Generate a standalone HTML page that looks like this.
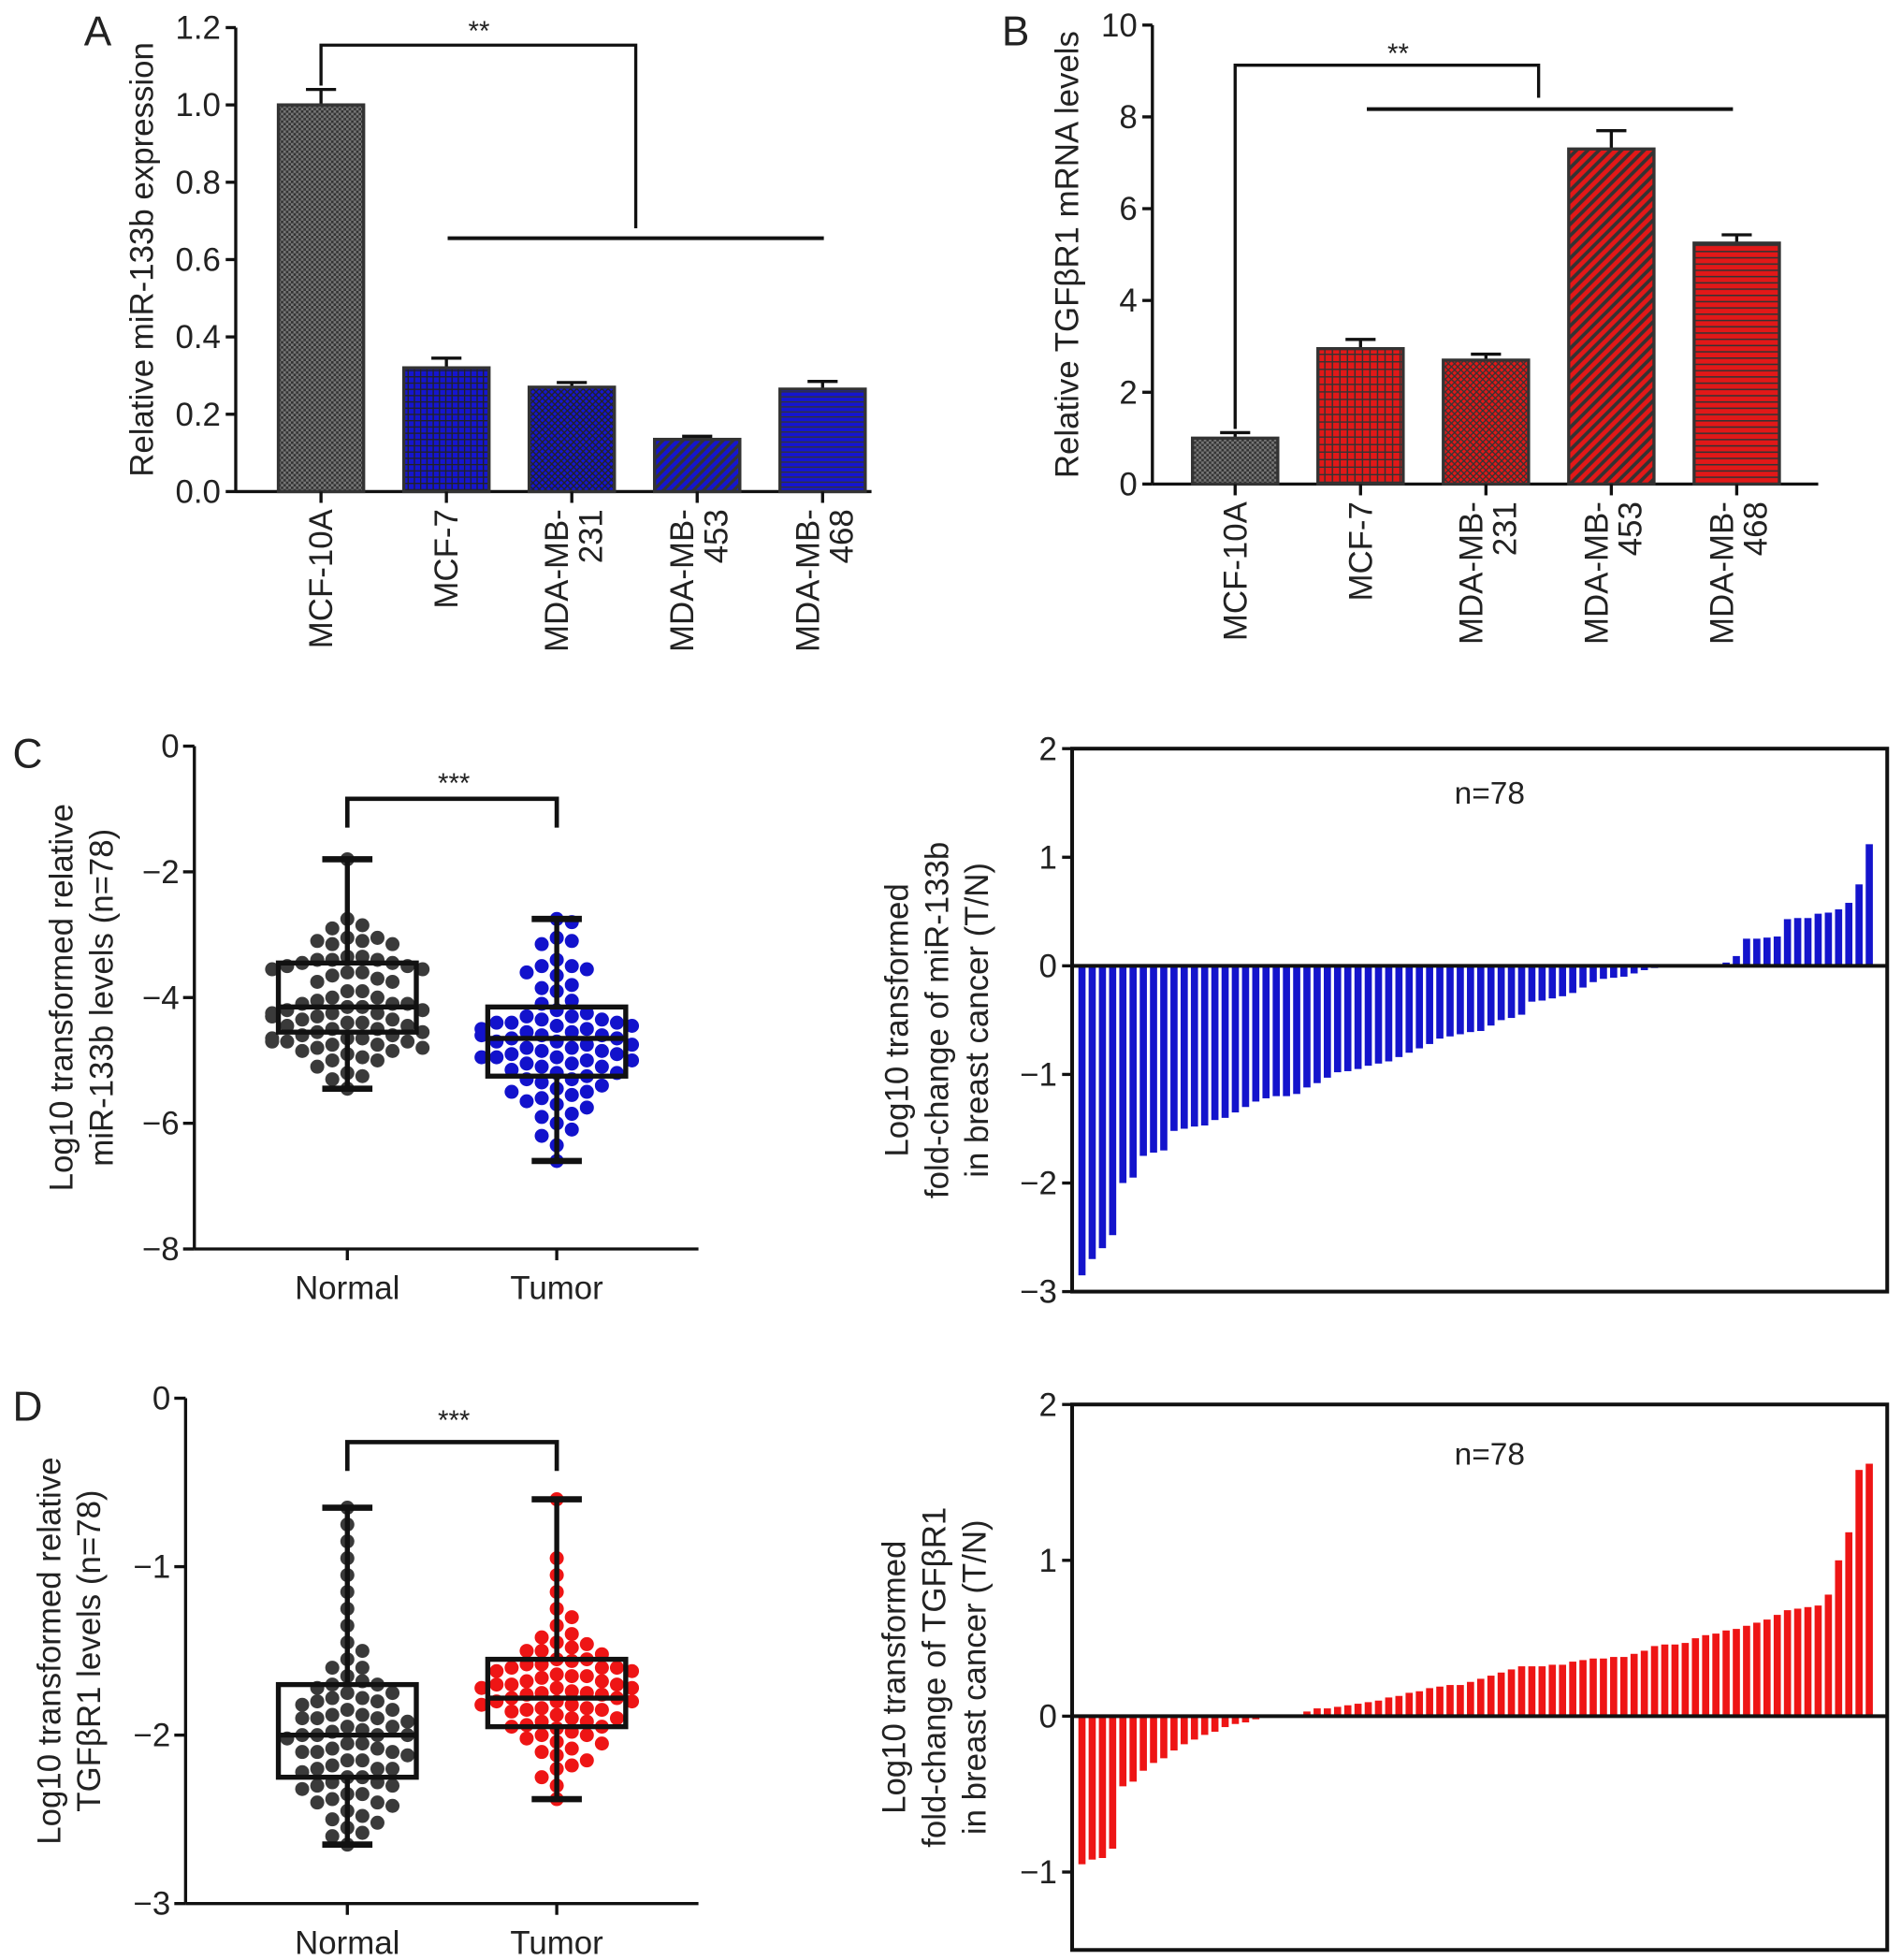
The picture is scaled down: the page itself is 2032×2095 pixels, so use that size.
<!DOCTYPE html>
<html><head><meta charset="utf-8">
<style>
html,body{margin:0;padding:0;background:#fff;}
svg{display:block;font-family:"Liberation Sans",Arial,sans-serif;}
</style></head>
<body>
<svg id="fig" width="2032" height="2095" viewBox="0 0 1516 1563" xmlns="http://www.w3.org/2000/svg">
<defs>
  <pattern id="pGray" width="4" height="4" patternUnits="userSpaceOnUse"><rect width="4" height="4" fill="#777"/><rect width="2" height="2" fill="#333"/><rect x="2" y="2" width="2" height="2" fill="#333"/></pattern>
  <pattern id="pBlueGrid" width="5" height="5" patternUnits="userSpaceOnUse"><rect width="5" height="5" fill="#1515d0"/><path d="M0 0.5H5M0.5 0V5" stroke="#222" stroke-width="1"/></pattern>
  <pattern id="pBlueCheck" width="5" height="5" patternUnits="userSpaceOnUse"><rect width="5" height="5" fill="#1515d0"/><path d="M0 0L5 5M5 0L0 5" stroke="#222" stroke-width="1"/></pattern>
  <pattern id="pBlueDiag" width="8" height="8" patternUnits="userSpaceOnUse"><rect width="8" height="8" fill="#1515d0"/><path d="M-2 10L10 -2M-2 2L2 -2M6 10L10 6" stroke="#333" stroke-width="2.5"/></pattern>
  <pattern id="pBlueHoriz" width="4" height="4" patternUnits="userSpaceOnUse"><rect width="4" height="4" fill="#1515d0"/><path d="M0 0.5H4" stroke="#333" stroke-width="1"/></pattern>
  <pattern id="pRedGrid" width="6" height="6" patternUnits="userSpaceOnUse"><rect width="6" height="6" fill="#e21818"/><path d="M0 0.5H6M0.5 0V6" stroke="#333" stroke-width="1.2"/></pattern>
  <pattern id="pRedCheck" width="5" height="5" patternUnits="userSpaceOnUse"><rect width="5" height="5" fill="#e21818"/><path d="M0 0L5 5M5 0L0 5" stroke="#333" stroke-width="1"/></pattern>
  <pattern id="pRedDiag" width="9" height="9" patternUnits="userSpaceOnUse"><rect width="9" height="9" fill="#e21818"/><path d="M-2 11L11 -2M-2 2L2 -2M7 11L11 7" stroke="#333" stroke-width="2.8"/></pattern>
  <pattern id="pRedHoriz" width="5" height="5" patternUnits="userSpaceOnUse"><rect width="5" height="5" fill="#e21818"/><path d="M0 0.5H5" stroke="#333" stroke-width="1.3"/></pattern>
</defs>
</svg>
<script>
// ---------- DATA ----------
const cellLines = ["MCF-10A","MCF-7","MDA-MB-231","MDA-MB-453","MDA-MB-468"];
const miRMeans = [1.0, 0.32, 0.27, 0.135, 0.265];
const miRErr = [0.04, 0.025, 0.012, 0.008, 0.02];
const miRTicks = [0,0.2,0.4,0.6,0.8,1.0,1.2];
const tgfMeans = [1.0, 2.95, 2.7, 7.3, 5.25];
const tgfErr = [0.12, 0.2, 0.13, 0.4, 0.18];
const tgfTicks = [0,2,4,6,8,10];
const groups = ["Normal","Tumor"];
const cNormal = [-1.8,-2.75,-2.85,-2.9,-3.05,-3.05,-3.1,-3.1,-3.15,-3.15,-3.35,-3.35,-3.4,-3.4,-3.4,-3.45,-3.45,-3.5,-3.5,-3.55,-3.55,-3.6,-3.6,-3.65,-3.7,-3.75,-3.75,-3.9,-3.9,-4.0,-4.0,-4.05,-4.1,-4.1,-4.1,-4.15,-4.15,-4.2,-4.2,-4.25,-4.25,-4.25,-4.3,-4.3,-4.3,-4.35,-4.35,-4.4,-4.4,-4.45,-4.45,-4.5,-4.5,-4.55,-4.55,-4.6,-4.6,-4.65,-4.65,-4.65,-4.7,-4.7,-4.7,-4.75,-4.75,-4.8,-4.8,-4.85,-4.85,-4.9,-4.95,-5.0,-5.1,-5.2,-5.25,-5.3,-5.45,-5.0];
const cTumor = [-2.75,-2.8,-3.05,-3.1,-3.15,-3.5,-3.5,-3.55,-3.6,-3.65,-3.8,-3.85,-3.9,-4.05,-4.1,-4.2,-4.25,-4.3,-4.3,-4.35,-4.35,-4.4,-4.4,-4.45,-4.45,-4.5,-4.5,-4.55,-4.55,-4.6,-4.6,-4.65,-4.65,-4.7,-4.7,-4.75,-4.75,-4.8,-4.8,-4.85,-4.85,-4.9,-4.9,-4.95,-4.95,-5.0,-5.0,-5.05,-5.1,-5.1,-5.15,-5.2,-5.25,-5.3,-5.3,-5.35,-5.4,-5.5,-5.5,-5.55,-5.6,-5.65,-5.7,-5.75,-5.85,-5.9,-6.0,-6.1,-6.2,-6.35,-6.6,-5.45,-5.2,-4.4,-4.6,-4.95,-5.05,-3.4];
const cStats = [[-1.8,-3.45,-4.15,-4.55,-5.45],[-2.75,-4.15,-4.65,-5.25,-6.6]];
const dNormal = [-0.65,-0.75,-0.85,-0.95,-1.05,-1.15,-1.25,-1.35,-1.45,-1.5,-1.6,-1.65,-1.68,-1.7,-1.72,-1.75,-1.75,-1.78,-1.8,-1.8,-1.82,-1.85,-1.85,-1.88,-1.9,-1.9,-1.92,-1.95,-1.95,-1.97,-2.0,-2.0,-2.0,-2.02,-2.05,-2.05,-2.08,-2.1,-2.1,-2.12,-2.15,-2.15,-2.18,-2.2,-2.2,-2.22,-2.25,-2.25,-2.28,-2.3,-2.3,-2.32,-2.35,-2.35,-2.38,-2.4,-2.42,-2.45,-2.48,-2.5,-2.52,-2.55,-2.58,-2.6,-2.65,-1.55,-1.6,-1.7,-1.9,-2.0,-2.1,-2.2,-1.78,-1.98,-2.08,-2.28,-2.4,-1.88];
const dTumor = [-0.6,-0.95,-1.05,-1.15,-1.25,-1.3,-1.35,-1.4,-1.42,-1.45,-1.48,-1.5,-1.52,-1.55,-1.55,-1.58,-1.6,-1.6,-1.62,-1.65,-1.65,-1.68,-1.7,-1.7,-1.72,-1.75,-1.75,-1.78,-1.78,-1.8,-1.8,-1.82,-1.85,-1.85,-1.88,-1.9,-1.9,-1.92,-1.95,-1.95,-1.98,-2.0,-2.02,-2.05,-2.08,-2.1,-2.12,-2.15,-2.2,-2.25,-2.3,-2.38,-1.62,-1.68,-1.72,-1.76,-1.84,-1.58,-1.66,-1.74,-1.86,-1.94,-2.04,-1.5,-1.56,-1.8,-1.7,-1.64,-1.76,-1.82,-1.92,-2.0,-1.46,-1.6,-1.72,-1.84,-1.96,-2.18];
const dStats = [[-0.65,-1.7,-2.0,-2.25,-2.65],[-0.6,-1.55,-1.78,-1.95,-2.38]];
const foldMiR = [-2.85,-2.7,-2.6,-2.48,-2.0,-1.95,-1.75,-1.72,-1.7,-1.52,-1.5,-1.48,-1.47,-1.42,-1.4,-1.35,-1.3,-1.25,-1.22,-1.2,-1.2,-1.18,-1.12,-1.08,-1.03,-0.98,-0.97,-0.95,-0.92,-0.9,-0.88,-0.84,-0.8,-0.76,-0.72,-0.67,-0.65,-0.63,-0.61,-0.6,-0.55,-0.5,-0.48,-0.45,-0.33,-0.32,-0.3,-0.28,-0.25,-0.2,-0.15,-0.12,-0.11,-0.1,-0.07,-0.04,-0.02,-0.01,0,0,0,0,0.01,0.03,0.09,0.25,0.25,0.26,0.27,0.43,0.44,0.44,0.48,0.49,0.52,0.58,0.75,1.12];
const foldTGF = [-0.95,-0.92,-0.91,-0.85,-0.45,-0.42,-0.35,-0.3,-0.27,-0.22,-0.18,-0.15,-0.12,-0.1,-0.07,-0.05,-0.04,-0.02,-0.01,0,0,0.01,0.03,0.05,0.05,0.06,0.07,0.08,0.09,0.1,0.12,0.13,0.15,0.16,0.18,0.19,0.2,0.2,0.22,0.24,0.26,0.28,0.3,0.32,0.32,0.32,0.33,0.33,0.35,0.36,0.37,0.37,0.38,0.38,0.4,0.42,0.45,0.46,0.46,0.47,0.5,0.52,0.53,0.55,0.56,0.58,0.6,0.62,0.65,0.68,0.69,0.7,0.71,0.78,1.0,1.18,1.58,1.62];

// ---------- HELPERS ----------
const NS="http://www.w3.org/2000/svg";
const svg=document.getElementById('fig');
function el(tag,attrs,parent){const e=document.createElementNS(NS,tag);for(const k in attrs)e.setAttribute(k,attrs[k]);(parent||svg).appendChild(e);return e;}
function txt(s,x,y,size,anchor,parent,rot){const t=el('text',{x:x,y:y,'font-size':size,'text-anchor':anchor||'middle',fill:'#222'},parent);if(rot)t.setAttribute('transform','rotate('+rot+' '+x+' '+y+')');t.textContent=s;return t;}
function line(x1,y1,x2,y2,w,parent){return el('line',{x1:x1,y1:y1,x2:x2,y2:y2,stroke:'#111','stroke-width':w||2.5},parent);}
function grp(name){const g=el('g',{});return g;}
const FT=26;

// ---------- PANEL A/B bar charts ----------
function barPanel(name,letter,lx,ly,ax,x0,x1,yBase,yTop,vmax,ticks,tickFmt,means,errs,fills,title,titleX){
  const g=grp(name);
  const ys=v=>yBase-(v/vmax)*(yBase-yTop);
  const t0=txt(letter,lx,ly,33,'middle',g);
  const ya=line(ax,yTop,ax,yBase,2.5,g);
  const xa=line(ax,yBase,x1,yBase,2.5,g);
  ticks.forEach(v=>{line(ax-8,ys(v),ax,ys(v),2.5,g);const t=txt(tickFmt(v),ax-12,ys(v)+9,FT,'end',g);});
  const tt=txt(title,titleX,(yBase+yTop)/2,FT,'middle',g,-90);
  means.forEach((m,i)=>{
    const cx=x0+i*100;
    const top=ys(m), et=ys(m+errs[i]);
    line(cx,top,cx,et,2.5,g);line(cx-12,et,cx+12,et,2.5,g);
    const r=el('rect',{x:cx-34,y:top,width:68,height:yBase-top,fill:'url(#'+fills[i]+')',stroke:'#333','stroke-width':2.5},g);
    
    
    line(cx,yBase,cx,yBase+9,2.5,g);
    const parts=cellLines[i].startsWith('MDA')?['MDA-MB-',cellLines[i].slice(7)]:[cellLines[i]];
    if(parts.length===1){const t=txt(parts[0],cx+9,yBase+14,FT,'end',g,-90);}
    else{const t=txt(parts[0],cx-3,yBase+14,FT,'end',g,-90);
      const t2=txt(parts[1],cx+24,yBase+14,FT,'end',g,-90);}
  });
  return {g,ys};
}
const A=barPanel('panel-a-bar-chart','A',78,36,188,256,695,392,22,1.2,miRTicks,v=>v.toFixed(1),miRMeans,miRErr,['pGray','pBlueGrid','pBlueCheck','pBlueDiag','pBlueHoriz'],'Relative miR-133b expression',122);
el('path',{d:'M256 '+A.ys(1.05)+'V36H507V182',fill:'none',stroke:'#111','stroke-width':2.5},A.g);
line(357,190,657,190,3,A.g);
txt('**',382,32,22,'middle',A.g);
const B=barPanel('panel-b-bar-chart','B',810,36,919,985,1450,386,20,10,tgfTicks,v=>String(v),tgfMeans,tgfErr,['pGray','pRedGrid','pRedCheck','pRedDiag','pRedHoriz'],'Relative TGF\u03b2R1 mRNA levels',860);
el('path',{d:'M985 '+B.ys(1.2)+'V52H1227V78',fill:'none',stroke:'#111','stroke-width':2.5},B.g);
line(1090,87,1382,87,3,B.g);
txt('**',1115,50,22,'middle',B.g);

// ---------- BOX/DOT panels ----------
function boxPanel(name,letter,ly,ax,yTop,yBase,vmin,vmax,ticks,data,stats,colors,title1,title2,t1x,t2x,brY,starY){
  const g=grp(name);
  const ys=v=>yTop+(vmax-v)/(vmax-vmin)*(yBase-yTop);
  const xs=[277,444];
  const L=txt(letter,22,ly,33,'middle',g);
  const ya=line(ax,yTop,ax,yBase,2.5,g);
  const xa=line(ax,yBase,557,yBase,2.5,g);
  ticks.forEach(v=>{line(ax-9,ys(v),ax,ys(v),2.5,g);const t=txt(String(v).replace('-','\u2212'),ax-12,ys(v)+9,FT,'end',g);});
  const cy=(yTop+yBase)/2;
  const a1=txt(title1,t1x,cy,FT,'middle',g,-90);
  const a2=txt(title2,t2x,cy,FT,'middle',g,-90);
  groups.forEach((gn,i)=>{
    const cx=xs[i];
    line(cx,yBase,cx,yBase+9,2.5,g);
    const xl=txt(gn,cx,yBase+40,FT,'middle',g);
    const placed=[];
    const vals=data[i].slice().sort((a,b)=>b-a);
    vals.forEach(v=>{
      const y=ys(v);let k=0,x=cx;
      const offs=[0,12,-12,24,-24,36,-36,48,-48,60,-60];
      for(k=0;k<offs.length;k++){x=cx+offs[k];if(!placed.some(p=>Math.hypot(p[0]-x,p[1]-y)<10.5))break;}
      placed.push([x,y]);
      const c=el('circle',{cx:x,cy:y,r:5.6,fill:colors[i]},g);
      
      
    });
    const s=stats[i];
    line(cx,ys(s[0]),cx,ys(s[1]),4,g);line(cx,ys(s[3]),cx,ys(s[4]),4,g);
    line(cx-20,ys(s[0]),cx+20,ys(s[0]),5,g);line(cx-20,ys(s[4]),cx+20,ys(s[4]),5,g);
    const b=el('rect',{x:cx-55,y:ys(s[1]),width:110,height:ys(s[3])-ys(s[1]),fill:'none',stroke:'#111','stroke-width':4},g);
    
    
    line(cx-55,ys(s[2]),cx+55,ys(s[2]),4,g);
  });
  el('path',{d:'M277 '+(brY+23)+'V'+brY+'H444V'+(brY+23),fill:'none',stroke:'#111','stroke-width':3.5},g);
  txt('***',362,starY,22,'middle',g);
}
boxPanel('panel-c-boxplot','C',612,155,595,996,-8,0,[0,-2,-4,-6,-8],[cNormal,cTumor],cStats,['#3a3a3a','#1212cc'],'Log10 transformed relative','miR-133b levels (n=78)',58,90,637,632);
boxPanel('panel-d-boxplot','D',1133,148,1115,1518,-3,0,[0,-1,-2,-3],[dNormal,dTumor],dStats,['#3a3a3a','#ee1515'],'Log10 transformed relative','TGF\u03b2R1 levels (n=78)',48,80,1150,1140);

// ---------- waterfall panels ----------
function waterPanel(name,yTop,yBase,vmin,vmax,ticks,vals,color,lines,lx,ny){
  const g=grp(name);
  const x0=855,x1=1505;
  const ys=v=>yTop+(vmax-v)/(vmax-vmin)*(yBase-yTop);
  const step=(1496-860)/vals.length;
  vals.forEach((v,i)=>{
    const x=860+i*step;const y0=ys(0),y=ys(v);
    const r=el('rect',{x:x,y:Math.min(y0,y),width:step*0.7,height:Math.max(Math.abs(y-y0),0.5),fill:color},g);
    
    
  });
  const fr=el('rect',{x:x0,y:yTop,width:x1-x0,height:yBase-yTop,fill:'none',stroke:'#111','stroke-width':3},g);
  
  const z=line(x0,ys(0),x1,ys(0),3,g);
  ticks.forEach(v=>{line(x0-8,ys(v),x0,ys(v),2.5,g);const t=txt(String(v).replace('-','\u2212'),x0-12,ys(v)+9,FT,'end',g);});
  const n=txt('n=78',1188,ny,25,'middle',g);
  const cy=(yTop+yBase)/2;
  lines.forEach((s,i)=>{const t=txt(s,lx+i*32,cy,FT,'middle',g,-90);});
}
waterPanel('panel-c-waterfall',597,1030,-3,2,[2,1,0,-1,-2,-3],foldMiR,'#1414cc',['Log10 transformed','fold-change of  miR-133b','in breast cancer (T/N)'],724,641);
waterPanel('panel-d-waterfall',1120,1555,-1.5,2,[2,1,0,-1],foldTGF,'#ee1515',['Log10 transformed','fold-change of  TGF\u03b2R1','in breast cancer (T/N)'],722,1168);
</script>
</body></html>
